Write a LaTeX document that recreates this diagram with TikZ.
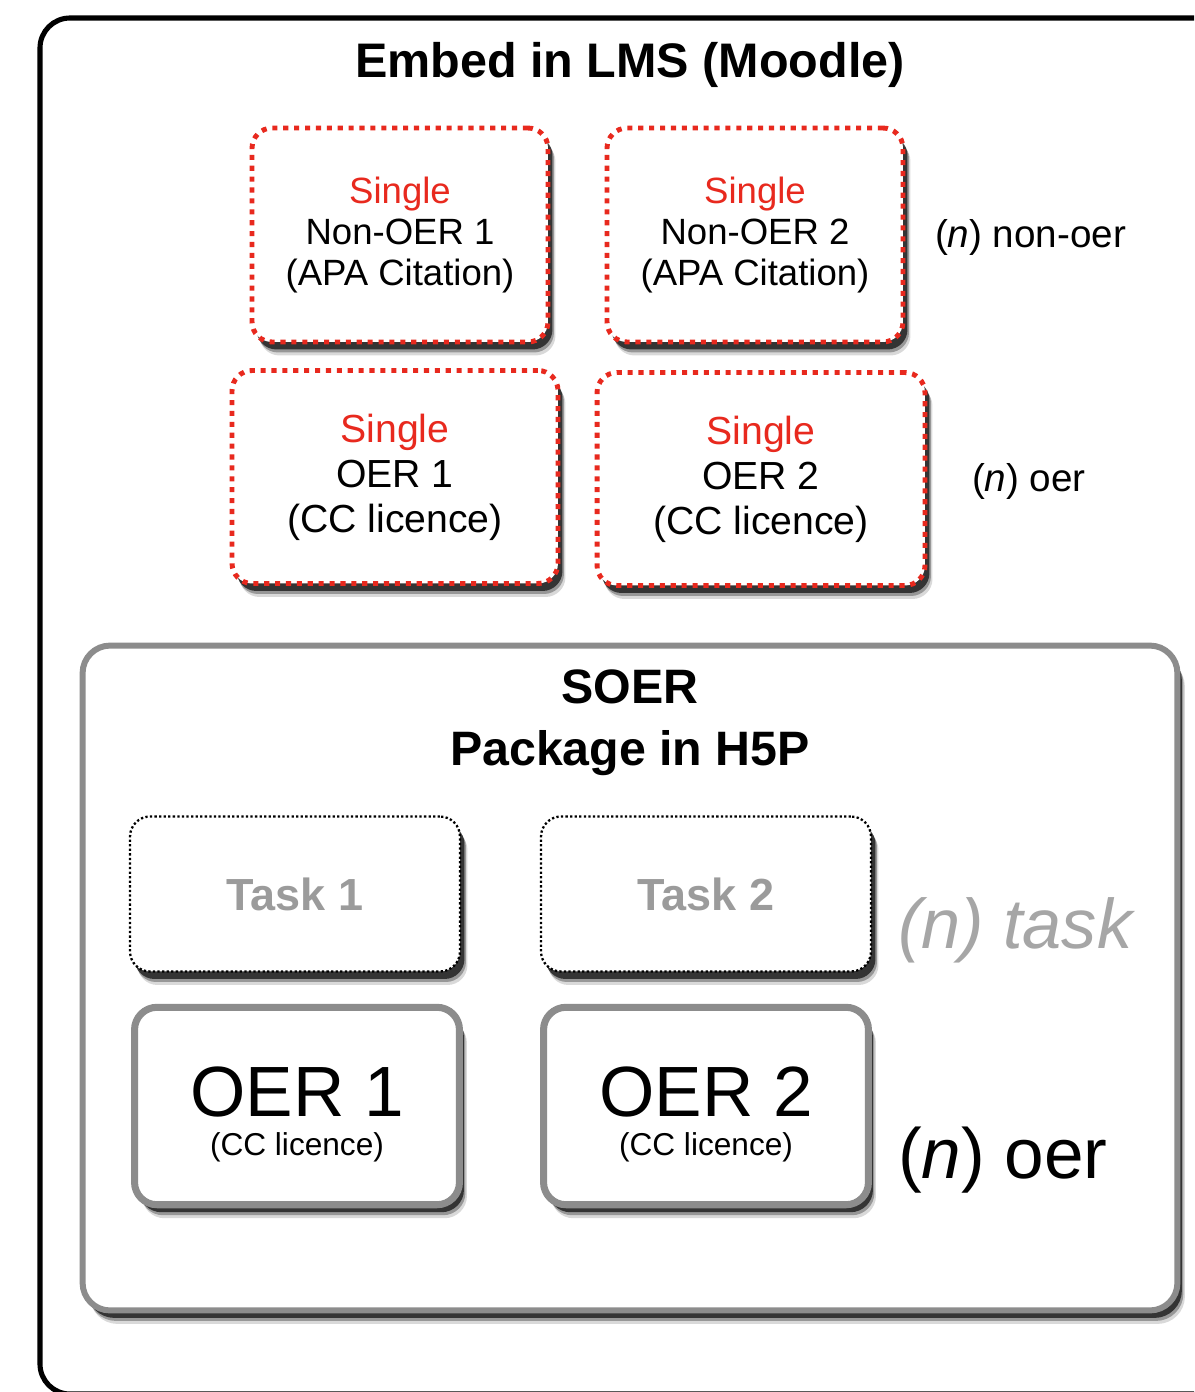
\documentclass[tikz,border=0pt]{standalone}
\usepackage{fontspec}
\setmainfont{Liberation Sans}
\usetikzlibrary{shadows}
\definecolor{oerred}{HTML}{E8291E}
\definecolor{boxgray}{HTML}{8C8C8C}
\definecolor{taskgray}{HTML}{9B9B9B}
\definecolor{labgray}{HTML}{A6A6A6}
\tikzset{
  shad/.style={
    drop shadow={shadow xshift=0.15cm, shadow yshift=-0.27cm, opacity=0.15, fill=black},
    drop shadow={shadow xshift=0.12cm, shadow yshift=-0.21cm, opacity=0.3, fill=black},
    drop shadow={shadow xshift=0.09cm, shadow yshift=-0.15cm, opacity=0.65, fill=black}},
  redbox/.style={draw=oerred, line width=2.8pt, dash pattern=on 2.9pt off 3.3pt,
    rounded corners=0.4cm, fill=white, shad, align=center, inner sep=0pt},
  taskbox/.style={draw=black, line width=1.3pt, dash pattern=on 1.3pt off 1.3pt,
    rounded corners=0.4cm, fill=white, shad, inner sep=0pt, minimum width=6.6cm, minimum height=3.1cm},
  oerbox/.style={draw=boxgray, line width=4pt, rounded corners=0.45cm, fill=white, shad,
    inner sep=0pt, minimum width=6.5cm, minimum height=3.95cm},
  soerbox/.style={draw=boxgray, line width=3.4pt, rounded corners=0.55cm, fill=white, shad,
    inner sep=0pt, minimum width=21.9cm, minimum height=13.3cm},
  plain/.style={inner sep=0pt, outer sep=0pt},
}
\begin{document}
\begin{tikzpicture}[x=0.02cm,y=-0.02cm]
\useasboundingbox (0,0) rectangle (1194,1392);
\fill[white] (0,0) rectangle (1194,1392);
\begin{scope}
  \clip (0,0) rectangle (1194,1392);
  \draw[line width=2.9pt, rounded corners=0.6cm] (40,18) rectangle (1260,1394);
\end{scope}

% title
\node[plain, anchor=base, font=\fontsize{27.6}{33}\selectfont\bfseries] (title) at (630,78) {Embed in LMS (Moodle)};

% red single boxes
\node[redbox, minimum width=5.92cm, minimum height=4.28cm, font=\fontsize{20.8}{23.4}\selectfont] (no1) at (400,235)
  {\textcolor{oerred}{Single}\\Non-OER 1\\(APA Citation)};
\node[redbox, minimum width=5.92cm, minimum height=4.28cm, font=\fontsize{20.8}{23.4}\selectfont] (no2) at (755,235)
  {\textcolor{oerred}{Single}\\Non-OER 2\\(APA Citation)};
\node[redbox, minimum width=6.52cm, minimum height=4.26cm, font=\fontsize{22.3}{25.6}\selectfont] (so1) at (395,477)
  {\textcolor{oerred}{Single}\\OER 1\\(CC licence)};
\node[redbox, minimum width=6.56cm, minimum height=4.26cm, font=\fontsize{22.3}{25.6}\selectfont] (so2) at (761,479)
  {\textcolor{oerred}{Single}\\OER 2\\(CC licence)};

\node[plain, anchor=west, font=\fontsize{22}{26}\selectfont] (lnonoer) at (935,237) {(\textit{n}) non-oer};
\node[plain, anchor=west, font=\fontsize{22}{26}\selectfont] (loer) at (972,481) {(\textit{n}) oer};

% SOER package
\node[soerbox] (soer) at (630,978) {};
\node[plain, anchor=base, font=\fontsize{27.5}{33}\selectfont\bfseries] (soert1) at (630,703) {SOER};
\node[plain, anchor=base, font=\fontsize{27.5}{33}\selectfont\bfseries] (soert2) at (630,765) {Package in H5P};

\node[taskbox] (t1) at (295,894) {};
\node[taskbox] (t2) at (706,894) {};
\node[plain, text=taskgray, font=\fontsize{25.6}{30}\selectfont\bfseries] (t1t) at (t1.center) {Task 1};
\node[plain, text=taskgray, font=\fontsize{25.6}{30}\selectfont\bfseries] (t2t) at (t2.center) {Task 2};
\node[plain, anchor=west, text=labgray, font=\fontsize{40}{46}\selectfont\itshape] (ltask) at (898,930) {(n) task};

\node[oerbox] (e1) at (297,1106) {};
\node[oerbox] (e2) at (706,1106) {};
\node[plain, anchor=base, font=\fontsize{40.5}{46}\selectfont] (e1a) at (297,1116) {OER 1};
\node[plain, anchor=base, font=\fontsize{18}{22}\selectfont] (e1b) at (297,1155) {(CC licence)};
\node[plain, anchor=base, font=\fontsize{40.5}{46}\selectfont] (e2a) at (706,1116) {OER 2};
\node[plain, anchor=base, font=\fontsize{18}{22}\selectfont] (e2b) at (706,1155) {(CC licence)};
\node[plain, anchor=west, font=\fontsize{40.5}{46}\selectfont] (loer2) at (898,1160) {(\textit{n}) oer};
\end{tikzpicture}
\end{document}
